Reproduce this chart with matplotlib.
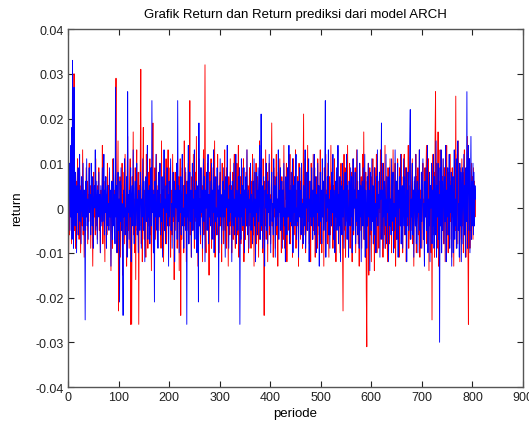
import numpy as np
import matplotlib
matplotlib.use("Agg")
import matplotlib.pyplot as plt


# return (red), in units of 0.001
ret = [
    -16, 3, -6, 9, -2, 5, -8, 4, 12, -3, 7, 30, -5, 2, -9, 6, -1, 4, 11, -6,
    3, -7, 8, -1, -10, 5, 1, -4, 13, -6, 2, -11, 4, 0, -5, 9, -2, 6, -8, 3,
    -3, 10, 0, 5, -9, 2, 7, -4, -13, 3, 8, -2, 1, -6, 11, -4, 3, -7, 5, -1,
    9, -5, 2, -10, 4, 0, -3, 14, -8, 1, 6, -4, -12, 7, -1, 3, -6, 10, -2, 5,
    -4, 8, -2, 3, -14, 6, 1, -9, 11, 0, 4, -7, 2, 9, 29, -5, -10, 3, 15, -23,
    2, -6, 7, -11, 5, -2, 10, -15, 3, -1, 8, -8, 12, -4, 0, -13, 6, 16, -5, 2,
    -9, 4, 11, -26, 1, -26, 7, -3, 17, -6, 2, -10, 9, -16, 4, 13, -5, -2, 8, -26,
    5, -4, 10, 31, -8, 2, -12, 6, 18, -2, -7, 4, 1, -11, 12, 0, 3, -9, 8, -4,
    2, 11, -6, 3, -14, 7, -1, 19, -10, 4, -3, 9, -7, 2, 12, -3, -8, 5, 0, -5,
    10, -2, 3, -9, 15, -6, 1, 7, -12, 3, 8, -4, -2, 11, -8, 5, 0, 13, -7, 2,
    -4, 9, -11, 4, 2, -6, 12, -3, 6, -16, 0, 8, -5, 3, 10, -9, 2, -2, 7, -14,
    4, 11, -24, 3, -7, 9, -1, 5, -10, 15, -4, 2, 8, -12, 6, -5, 2, 10, -8, 3,
    24, -6, 1, -11, 7, 3, -5, 12, -2, -9, 4, 8, -3, 16, -7, 2, -13, 6, 11, -4,
    0, -8, 9, -2, 5, -12, 4, 13, -6, 2, 32, -5, -10, 7, 0, 10, -5, 3, -15, 8,
    -2, 6, 11, -9, 2, -4, 9, -7, 4, 15, -11, 1, 7, -3, -6, 12, -1, 4, -10, 5,
    8, -4, 2, -12, 10, -2, 6, -8, 0, 13, -5, 3, -9, 9, -2, 4, -13, 7, 2, -6,
    11, -4, 5, -10, 1, 8, -7, 4, 12, -3, -9, 6, -1, 10, -6, 2, 14, -11, 4, -2,
    7, -8, 3, 9, -5, 0, 11, -12, 4, 2, -7, 8, -4, 13, -2, 5, -10, 1, 9, -4,
    2, -9, 6, -2, 12, -6, 4, -13, 8, 0, -4, 10, -8, 3, 7, -3, -11, 5, 15, -7,
    2, 9, -5, 4, -10, 11, -1, -24, 6, -4, 13, -7, 2, 8, -12, 4, 0, 10, -6, 3,
    -8, 5, 19, -4, 1, -11, 9, -2, 7, -9, 4, 12, -6, 2, -13, 8, -2, 5, 11, -5,
    3, -10, 7, 0, 4, -7, 14, -4, -9, 6, 2, 10, -12, 4, -2, 9, -5, 0, 12, -8,
    5, -3, 8, -11, 2, 11, -6, 4, -1, 13, -9, 4, -4, 7, 1, -13, 10, -2, 6, -7,
    9, -4, 2, -9, 5, 21, -6, 3, 11, -10, -2, 8, -5, 14, -3, 4, -8, 6, 1, -12,
    10, -2, 4, -7, 12, -5, 0, 9, -11, 4, 7, -4, -9, 11, -1, 5, -6, 2, 13, -8,
    3, -10, 8, -2, 6, -13, 9, 1, -5, 12, -3, 4, -8, 10, 0, -11, 7, 4, -6, 14,
    -4, 2, 9, -9, 5, -1, 11, -7, 2, -12, 8, 4, -4, 13, -6, 0, 7, -10, 4, 10,
    -2, 6, -8, -23, 3, 12, -5, 9, -11, 2, 7, -3, 14, -7, 4, -2, 10, -9, 5, -4,
    8, -12, 2, 11, -6, 4, 0, 9, -10, 1, 13, -4, 6, -8, 3, -13, 10, 2, -5, 7,
    -9, 4, 12, -2, 17, -7, 5, -11, 8, -18, -31, 6, -4, 10, -15, 2, 9, -6, 4, -12,
    7, -2, 11, -8, 4, -14, 9, 1, -5, 12, -10, 3, 6, -3, -9, 8, -1, 13, -7, 4,
    -4, 10, -11, 5, 2, -6, 14, -9, 4, 7, -2, -12, 9, 0, 6, -8, 11, -4, 2, -10,
    8, -5, 13, -2, -9, 4, 10, -13, 3, 6, -7, 11, -3, 1, -11, 9, -4, 5, 12, -8,
    2, -10, 7, -2, 12, -6, 4, 9, -12, 0, 8, -4, 14, -9, 5, -1, -7, 10, -5, 3,
    11, -8, 4, -13, 6, 1, -4, 12, -10, 7, -2, 9, -6, 2, 13, -11, 4, -3, 8, -9,
    5, 10, -7, 2, -12, 9, -2, 6, 14, -8, 3, -5, 11, -14, 7, -1, 4, -10, 9, -25,
    4, 12, -6, 8, -11, 15, 26, -4, 10, -9, 2, 17, -13, 6, -7, 13, -2, 4, -10, 7,
    -5, 11, -8, 3, 9, -12, 5, -1, 14, -6, 2, -10, 8, 4, -7, 12, -3, 6, -11, 9,
    -2, 7, -13, 4, 10, -5, 25, -9, 2, 12, -8, 15, -4, 6, -12, 9, 1, -7, 11, -4,
    8, -10, 4, 13, -6, 2, -11, 9, -3, 16, -8, -26, 5, 11, -9, 3, -5, 10, -2, 7,
    -7, 9, -4, 6, -2, 4,
]

# predicted return (blue), in units of 0.001
pred = [
    -4, 6, 10, -5, 14, -2, 18, -7, 33, 3, -9, 27, 1, -4, 8, 2, -10, 5, -1, 9,
    -6, 2, 12, -3, 4, -8, 7, 0, -2, 10, -5, 4, 1, -25, 6, -2, 11, -4, 2, -7,
    4, 9, -1, 3, -6, 10, 2, -4, 7, -9, 2, 5, 0, 13, -5, 1, 6, -8, 4, -2,
    8, -2, 3, -10, 5, 0, -4, 9, -3, 2, 12, -6, 4, -1, 7, -9, 2, 5, -4, 1,
    -5, 9, -2, 4, -13, 2, 6, -7, 0, 11, -4, 3, -8, 27, -2, 5, -10, 1, 8, -5,
    2, -21, 6, -3, 9, -5, 1, -9, -24, 4, -2, 11, -6, 0, -4, 7, -11, 26, -1, 3,
    -7, 4, -2, 9, -12, 2, 5, -4, 13, -1, -8, 3, 6, -4, 0, 10, -6, 2, -10, 4,
    1, -5, 8, 4, -9, 2, -2, 11, -5, 6, 0, -12, 3, 7, -3, 2, 14, -7, 4, -2,
    5, -8, 2, 9, -4, 24, -1, 4, -10, 3, -21, 6, -2, 12, 0, -5, 4, -9, 8, -2,
    2, 10, -6, 1, -3, 7, -11, 4, 0, 13, -5, 2, -8, 5, -1, 9, -4, 3, -13, 6,
    -2, 4, 11, -5, 1, -9, 3, 8, -2, 6, -12, 2, 4, 0, 10, -7, 24, -3, 5, -10,
    4, -1, 7, -6, 2, 12, -4, 0, -9, 5, -2, 9, -5, 3, -26, 6, -2, 14, -8, 2,
    8, -3, 4, -11, 1, 10, -5, 2, 0, 13, -7, 4, -2, 6, -10, 0, 5, -21, 19, -4,
    2, -6, 9, -1, 4, -9, 2, 11, -3, 7, -12, 4, 0, 8, -5, 1, 12, -8, 3, -2,
    6, -4, 2, 10, -7, 4, -1, 13, -10, 2, 7, -3, 0, -6, 9, -2, 4, -21, 5, -4,
    11, -2, 3, -8, 1, 6, -5, 9, -2, 4, -11, 7, 0, 2, 14, -4, 2, -9, 5, -3,
    8, -1, 4, -12, 6, 0, -4, 10, -6, 2, -2, 12, -8, 4, 1, -5, 7, -2, 9, -26,
    3, -7, 11, -2, 5, -4, 1, 9, -10, 4, 0, 7, -4, 13, -6, 2, 4, -9, 2, -1,
    10, -5, 3, 0, -8, 6, -2, 11, -4, 2, -12, 8, -1, 4, -6, 9, -3, 1, 14, -7,
    2, 21, -4, 5, -9, 2, 7, -2, -13, 4, 0, 10, -5, 3, -8, 6, -1, 12, -4, 2,
    -10, 4, 8, -3, 1, -6, 11, 0, 5, -11, 3, 7, -4, 2, -2, 13, -7, 4, -1, 9,
    -5, 2, 6, -9, 4, -2, 10, -4, 0, -12, 7, 3, -6, 9, -2, 1, 14, -8, 4, -3,
    8, -4, 2, 11, -10, 5, -1, 7, -4, 2, 12, -7, 0, -3, 6, -11, 4, 9, -2, 4,
    -6, 10, -2, 1, -8, 5, 3, -4, 13, -9, 2, 0, 8, -5, 4, 11, -12, 2, -2, 6,
    -4, 9, 0, -7, 4, -2, 12, -6, 2, 7, -10, 3, -1, 10, -4, 5, -13, 1, 8, -3,
    4, -8, 11, -2, 6, -5, 1, 9, 24, -11, 3, -3, 7, 0, 13, -6, 2, -9, 4, 2,
    -4, 8, -1, 12, -7, 4, 0, -10, 6, -2, 9, -5, 2, 14, -8, 3, -4, 7, -12, 5,
    1, -6, 10, -2, 4, -9, 2, 8, -4, 0, 12, -7, 5, -1, -11, 6, 3, -4, 9, -2,
    7, -10, 2, 11, -5, 4, 0, 8, -8, 2, -3, 13, -6, 4, 1, -9, 10, -2, 5, -12,
    3, 6, -4, 9, -7, 2, 12, -11, 4, -1, -9, 7, -4, 10, -2, 4, -14, 8, 0, -5,
    11, -3, 5, -8, 2, 9, -6, 1, -10, 7, -2, 13, -4, 3, 0, 8, -11, 4, 2, 19,
    -7, 4, -2, 10, -9, 6, 0, -4, 12, -8, 2, -1, 7, -12, 5, 9, -4, 2, -6, 11,
    -3, 4, 8, -10, 1, -5, 13, -2, 6, -7, 3, 10, -11, 4, 0, 7, -4, 12, -8, 2,
    5, -9, 2, 11, -4, 7, -6, 0, 9, -12, 4, -2, 8, -5, 3, 14, 22, -7, 2, -2,
    10, -6, 4, -11, 7, 1, -4, 12, -8, 2, 6, -10, 4, -1, 13, -5, 2, -9, 8, -3,
    4, 11, -7, 1, -13, 6, -2, 9, -5, 3, 14, -10, 2, -4, 8, -12, 5, 0, 10, -8,
    4, -4, 12, -9, 7, 2, -6, 15, -11, 5, -2, 10, -7, 3, -30, 9, -4, 13, -10, 6,
    -5, 11, 1, -8, 7, -3, 14, -12, 4, -2, 9, -6, 2, 12, -9, 5, -1, 8, -13, 4,
    7, -10, 3, 13, -7, 2, -4, 11, -9, 6, 15, -5, 1, -11, 10, -4, 8, -12, 4, 9,
    -8, 2, 12, -6, 5, -11, 9, -3, 26, -9, 7, 14, -5, 11, -10, 3, 16, -7, 6, -4,
    10, -6, 8, -4, 5, 2,
]

y_ticks = [-0.04, -0.03, -0.02, -0.01, 0, 0.01, 0.02, 0.03, 0.04]
y_labels = ["-0.04", "-0.03", "-0.02", "-0.01", "0", "0.01", "0.02", "0.03", "0.04"]
x_ticks = [0, 100, 200, 300, 400, 500, 600, 700, 800, 900]

plt.rcParams["font.family"] = ["Liberation Sans", "DejaVu Sans"]

fig = plt.figure(figsize=(5.29, 4.27), dpi=100)
ax = fig.add_axes([0.1285, 0.0913, 0.8602, 0.8384])

r = np.array(ret) / 1000.0
p = np.array(pred) / 1000.0

ax.plot(np.arange(1, len(r) + 1), r, color="#ff0000", lw=0.65)
ax.plot(np.arange(1, len(p) + 1), p, color="#0000ff", lw=0.65)

ax.set_xlim(0, 900)
ax.set_ylim(-0.04, 0.04)
ax.set_xticks(x_ticks)
ax.set_yticks(y_ticks)
ax.set_yticklabels(y_labels)

# matlab-like box with inward ticks on all sides
ax.tick_params(direction="in", length=4, width=0.8, top=True, right=True,
               colors="#222222", labelsize=9, pad=3)
for s in ax.spines.values():
    s.set_color("#555555")
    s.set_linewidth(1.0)

ax.set_title("Grafik Return dan Return prediksi dari model ARCH", fontsize=9.5, pad=9)
ax.set_xlabel("periode", fontsize=9.5, labelpad=3)
ax.set_ylabel("return", fontsize=9.5, labelpad=9)

fig.savefig("out.png", dpi=100)
